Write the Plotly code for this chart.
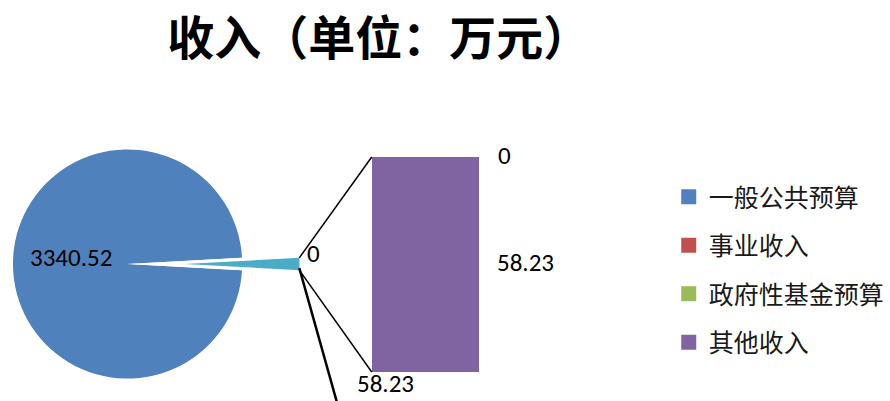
import plotly.graph_objects as go
import math

# ---- data ----
categories = ["一般公共预算", "事业收入", "政府性基金预算", "其他收入"]
values = [3340.52, 0, 0, 58.23]
colors = ["#4F81BD", "#C0504D", "#9BBB59", "#8064A2"]
other_color = "#4BACC6"
title_text = "收入（单位：万元）"

main_value = values[0]
bar_cats = categories[1:]
bar_vals = values[1:]
other_total = sum(bar_vals)
total = main_value + other_total

W, H = 890, 401
OFF = 0  # page body margin removed by post_script
def px(x):
    return (x - OFF) / W
def py(y):
    return 1 - (y - OFF) / H

# pie geometry (pixels)
cx, cy, r = 128, 264, 115
pull_px = 57.5
frac = other_total / total
rotation = 90 + 180 * frac

fig = go.Figure()

fig.add_trace(go.Pie(
    values=[main_value, other_total],
    labels=[categories[0], "其他"],
    marker=dict(colors=[colors[0], "white"], line=dict(width=0)),
    sort=False, direction="clockwise", rotation=rotation,
    textinfo="none", showlegend=False, hoverinfo="label+value",
    domain=dict(x=[px(cx - r), px(cx + r)], y=[py(cy + r), py(cy - r)]),
))
fig.add_trace(go.Pie(
    values=[main_value, other_total],
    labels=[categories[0] + " ", "其他 "],
    marker=dict(colors=["rgba(0,0,0,0)", other_color], line=dict(width=0)),
    sort=False, direction="clockwise", rotation=rotation,
    textinfo="none", showlegend=False, hoverinfo="skip",
    domain=dict(x=[px(cx + pull_px - r), px(cx + pull_px + r)], y=[py(cy + r), py(cy - r)]),
))

for cat, val, col in zip(bar_cats, bar_vals, colors[1:]):
    fig.add_trace(go.Bar(
        x=[0], y=[val], name=cat, marker=dict(color=col, line=dict(width=0)),
        width=1, showlegend=False,
    ))

for i, (cat, col) in enumerate(zip(categories, colors)):
    fig.add_trace(go.Scatter(
        x=[None], y=[None], mode="markers", name=cat,
        marker=dict(symbol="square", size=15, color=col),
        legendgroup=f"g{i}", showlegend=True,
    ))

bar_x0, bar_x1, bar_ytop, bar_ybot = 373, 481, 157, 372
fig.update_layout(
    width=W, height=H,
    margin=dict(l=0, r=0, t=0, b=0),
    paper_bgcolor="white", plot_bgcolor="white",
    barmode="stack",
    title=dict(
        text="<b>" + title_text + "</b>", x=px(380), xanchor="center",
        xref="paper", yref="container", y=py(39), yanchor="middle",
        font=dict(family="Noto Sans CJK SC", size=47, color="black"),
    ),
    xaxis=dict(domain=[px(bar_x0), px(bar_x1)], range=[-0.5, 0.5], visible=False, fixedrange=True),
    yaxis=dict(domain=[py(bar_ybot), py(bar_ytop)], range=[0, other_total], visible=False, fixedrange=True),
    showlegend=True,
    legend=dict(
        x=px(671), y=py(174), xanchor="left", yanchor="top",
        traceorder="grouped", tracegroupgap=13,
        font=dict(family="Noto Sans CJK SC", size=25, color="#1a1a1a"),
        bgcolor="rgba(0,0,0,0)", itemclick=False, itemdoubleclick=False,
    ),
)

half = math.pi * frac
tip_x = cx + pull_px + r * math.cos(half)
tip_top = cy - r * math.sin(half)
tip_bot = cy + r * math.sin(half)
line_style = dict(color="black", width=1.5)
fig.add_shape(type="line", xref="paper", yref="paper",
              x0=px(tip_x), y0=py(tip_top), x1=px(bar_x0), y1=py(bar_ytop), line=line_style)
fig.add_shape(type="line", xref="paper", yref="paper",
              x0=px(tip_x), y0=py(tip_bot), x1=px(bar_x0), y1=py(bar_ybot), line=line_style)
fig.add_shape(type="line", xref="paper", yref="paper",
              x0=px(tip_x), y0=py(tip_bot - 2), x1=px(338), y1=py(402), line=dict(color="black", width=2.5))

def fmt(v):
    return ("%.2f" % v).rstrip("0").rstrip(".") if v != int(v) else str(int(v))

num_font = dict(family="Carlito, Calibri, Open Sans", size=25, color="black")
labels = [
    (fmt(main_value), 28, 257),
    (fmt(values[2]), 306, 253),
    (fmt(values[1]), 498, 155),
    (fmt(values[3]), 497, 262),
    (fmt(other_total), 356, 383),
]
for t, x, y in labels:
    fig.add_annotation(text=t, xref="paper", yref="paper", x=px(x), y=py(y),
                       xanchor="left", yanchor="middle", showarrow=False, font=num_font)

fig.write_html("out.html", config={"displayModeBar": False},
               post_script="document.body.style.margin='0';")
